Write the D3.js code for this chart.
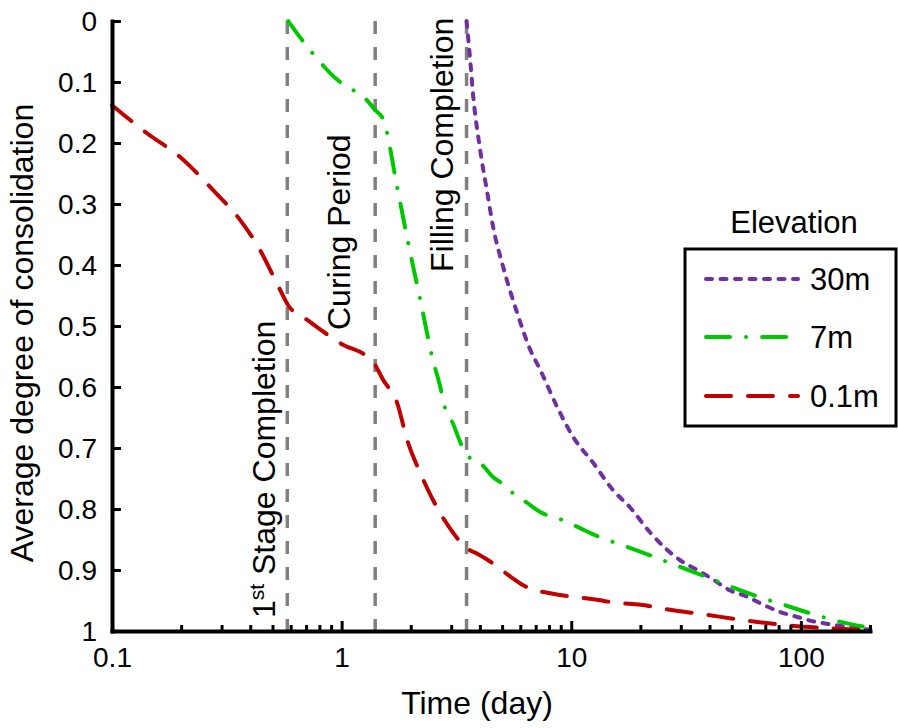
<!DOCTYPE html>
<html>
<head>
<meta charset="utf-8">
<script src="https://cdn.jsdelivr.net/npm/d3@7"></script>
<style>
  body { margin: 0; background: #fff; }
  svg { display: block; font-family: Arial, "Liberation Sans", sans-serif; }
</style>
</head>
<body>
<svg id="chart" width="898" height="728"></svg>
<script>
// ---------------- data ----------------
const seriesNames = ["30m", "7m", "0.1m"];
const seriesColors = ["#7030A0", "#00C800", "#C00000"];

const time30 = [3.5, 3.63, 3.74, 4.01, 4.31, 4.57, 5.05, 5.82, 6.63, 7.33, 8.69, 10.2, 12.5, 15.2, 18.1, 22.1, 29.8, 35.4, 41.6, 48.9, 58.5, 68.6, 81.4, 96.5, 113, 134, 159, 200];
const u30    = [0, 0.064, 0.122, 0.211, 0.282, 0.338, 0.403, 0.479, 0.539, 0.572, 0.633, 0.682, 0.725, 0.769, 0.798, 0.839, 0.884, 0.900, 0.916, 0.933, 0.944, 0.957, 0.969, 0.977, 0.984, 0.989, 0.993, 0.998];

const time7 = [0.585, 0.744, 0.985, 1.12, 1.26, 1.4, 1.52, 1.745, 1.95, 2.2, 2.5, 2.69, 2.82, 3.03, 3.36, 3.5, 3.63, 4.1, 4.57, 5.0, 5.57, 6.43, 7.33, 9.14, 10.6, 12.9, 15.2, 18.1, 22.8, 29.8, 39.1, 50.8, 65.3, 87.4, 112, 149, 200];
const u7    = [0, 0.052, 0.1, 0.113, 0.126, 0.146, 0.162, 0.272, 0.364, 0.457, 0.556, 0.6, 0.634, 0.657, 0.698, 0.708, 0.717, 0.728, 0.748, 0.758, 0.774, 0.79, 0.805, 0.818, 0.829, 0.844, 0.854, 0.864, 0.878, 0.895, 0.912, 0.929, 0.944, 0.959, 0.972, 0.985, 0.995];

const time01 = [0.1, 0.142, 0.198, 0.275, 0.361, 0.433, 0.54, 0.585, 0.708, 0.985, 1.37, 1.52, 1.745, 1.93, 2.2, 2.69, 3.06, 3.45, 3.6, 3.93, 4.35, 4.9, 5.53, 6.18, 6.97, 8.1, 10.2, 12.5, 15.9, 20, 27.8, 36.5, 55.6, 83.9, 125, 200];
const u01    = [0.138, 0.184, 0.223, 0.277, 0.326, 0.37, 0.441, 0.466, 0.49, 0.528, 0.559, 0.589, 0.626, 0.687, 0.741, 0.807, 0.839, 0.862, 0.867, 0.874, 0.884, 0.898, 0.913, 0.925, 0.933, 0.938, 0.944, 0.948, 0.954, 0.957, 0.966, 0.972, 0.982, 0.99, 0.995, 0.999];

const eventTimes  = [0.58, 1.4, 3.5];
const eventLabels = ["Stage Completion", "Curing Period", "Filling Completion"];

const xMajorTicks = [0.1, 1, 10, 100];
const xMajorLabels = ["0.1", "1", "10", "100"];
const xMinorTicks = [0.2,0.3,0.4,0.5,0.6,0.7,0.8,0.9,2,3,4,5,6,7,8,9,20,30,40,50,60,70,80,90,200];
const yTicks = [0, 0.1, 0.2, 0.3, 0.4, 0.5, 0.6, 0.7, 0.8, 0.9, 1];
const yTickLabels = ["0", "0.1", "0.2", "0.3", "0.4", "0.5", "0.6", "0.7", "0.8", "0.9", "1"];

// ---------------- chart ----------------
const svg = d3.select("#chart");
const x = d3.scaleLog().domain([0.1, 200]).range([112, 870]);
const y = d3.scaleLinear().domain([0, 1]).range([21, 631]);

const series = [
  { name: seriesNames[0], color: seriesColors[0], t: time30, u: u30, dash: "6,8.5" },
  { name: seriesNames[1], color: seriesColors[1], t: time7,  u: u7,  dash: "24,16,0.1,16" },
  { name: seriesNames[2], color: seriesColors[2], t: time01, u: u01, dash: "25,17" }
];

// event lines
svg.append("g").selectAll("line").data(eventTimes).join("line")
  .attr("x1", d => x(d)).attr("x2", d => x(d))
  .attr("y1", y(0)).attr("y2", y(1))
  .attr("stroke", "#808080").attr("stroke-width", 3.5)
  .attr("stroke-dasharray", "13,13");

// series lines
const line = d3.line().curve(d3.curveMonotoneX);
svg.append("g").selectAll("path").data(series).join("path")
  .attr("d", s => line(s.t.map((t, i) => [x(t), y(s.u[i])])))
  .attr("fill", "none")
  .attr("stroke", s => s.color)
  .attr("stroke-width", 4)
  .attr("stroke-linecap", "round")
  .attr("stroke-dasharray", s => s.dash);

// axes
const yAxis = d3.axisLeft(y).tickValues(yTicks)
  .tickFormat((d, i) => yTickLabels[i])
  .tickSizeInner(-9).tickSizeOuter(0).tickPadding(15);
const gy = svg.append("g").attr("transform", `translate(${x(0.1)},0)`).call(yAxis);

const xMinor = d3.axisBottom(x).tickValues(xMinorTicks).tickFormat("")
  .tickSizeInner(-6).tickSizeOuter(0);
const gxm = svg.append("g").attr("transform", `translate(0,${y(1)})`).call(xMinor);
gxm.select(".domain").remove();

const xAxis = d3.axisBottom(x).tickValues(xMajorTicks)
  .tickFormat((d, i) => xMajorLabels[i])
  .tickSizeInner(-10).tickSizeOuter(0).tickPadding(16);
const gx = svg.append("g").attr("transform", `translate(0,${y(1)})`).call(xAxis);

[gx, gy, gxm].forEach(g => {
  g.selectAll(".domain").attr("stroke", "#000").attr("stroke-width", 4).attr("stroke-linecap", "square");
  g.selectAll(".tick line").attr("stroke", "#000").attr("stroke-width", 3);
  g.selectAll(".tick text").attr("fill", "#000").style("font-size", "28px")
    .style("font-family", "Arial, 'Liberation Sans', sans-serif");
});
gy.selectAll(".tick text").attr("dy", "0.35em");

// axis titles
svg.append("text")
  .attr("transform", `translate(33,333) rotate(-90)`)
  .attr("text-anchor", "middle")
  .style("font-size", "32px")
  .text("Average degree of consolidation");
svg.append("text")
  .attr("x", 477).attr("y", 714)
  .attr("text-anchor", "middle")
  .style("font-size", "32px")
  .text("Time (day)");

// event annotations
const ann1 = svg.append("text")
  .attr("transform", `translate(275,618) rotate(-90)`)
  .style("font-size", "32px");
ann1.append("tspan").text("1");
ann1.append("tspan").attr("baseline-shift", "super").style("font-size", "21px").text("st");
ann1.append("tspan").text(" " + eventLabels[0]);

svg.append("text")
  .attr("transform", `translate(350,330) rotate(-90)`)
  .style("font-size", "32px")
  .text(eventLabels[1]);
svg.append("text")
  .attr("transform", `translate(453,272) rotate(-90)`)
  .style("font-size", "32px")
  .text(eventLabels[2]);

// legend
const lg = svg.append("g");
lg.append("text").attr("x", 794).attr("y", 233).attr("text-anchor", "middle")
  .style("font-size", "31px").text("Elevation");
lg.append("rect").attr("x", 685).attr("y", 249).attr("width", 211).attr("height", 177)
  .attr("fill", "#fff").attr("stroke", "#000").attr("stroke-width", 3);
const legY = [279, 337, 396];
series.forEach((s, i) => {
  lg.append("line").attr("x1", 706).attr("x2", 798)
    .attr("y1", legY[i]).attr("y2", legY[i])
    .attr("stroke", s.color).attr("stroke-width", 4)
    .attr("stroke-linecap", "round").attr("stroke-dasharray", s.dash);
  lg.append("text").attr("x", 810).attr("y", legY[i] + 11)
    .style("font-size", "31px").text(s.name);
});
</script>
</body>
</html>
